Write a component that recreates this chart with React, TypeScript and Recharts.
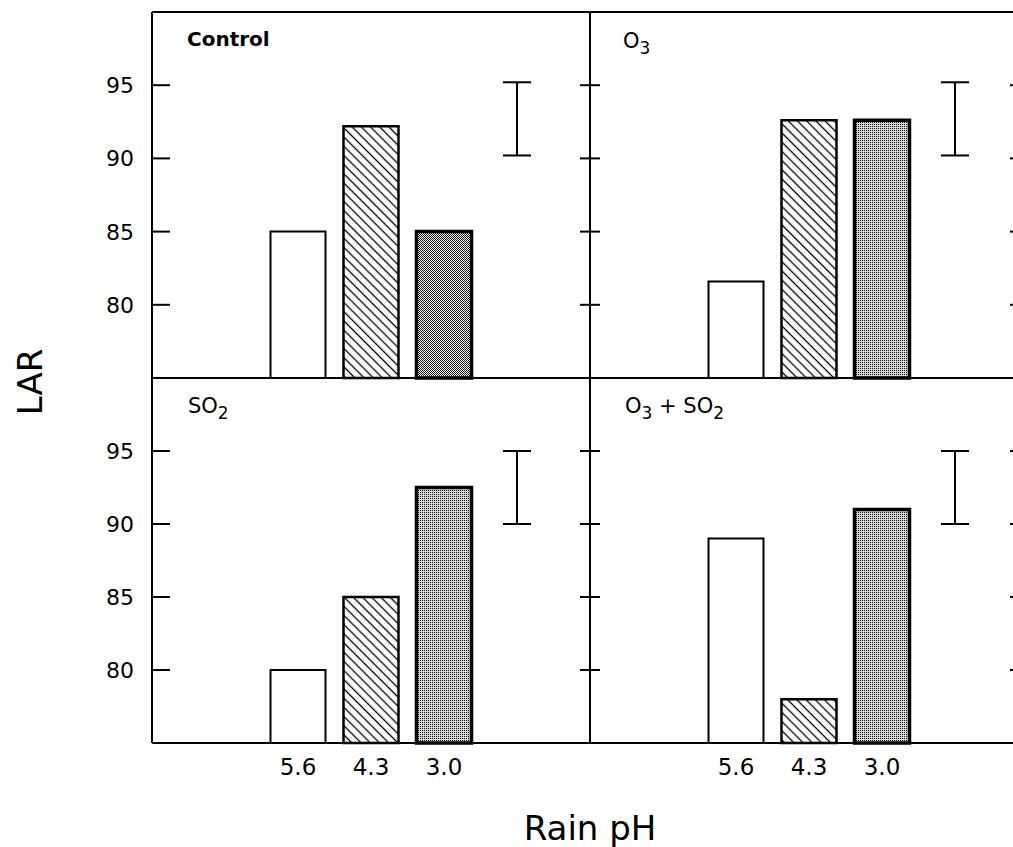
import { ComposedChart, Bar, Cell, XAxis, YAxis, Scatter, ErrorBar } from "recharts";
import type { ReactNode } from "react";

// rain pH treatments, left to right
const phLevels = ["5.6", "4.3", "3.0"];
// extra slot on the category axis that holds the LSD bar
const lsdSlot = "LSD";

// LAR per treatment, one array per panel
const controlLar = [85.0, 92.2, 85.0];
const ozoneLar = [81.6, 92.6, 92.6];
const so2Lar = [80.0, 85.0, 92.5];
const comboLar = [89.0, 78.0, 91.0];

// LSD bar: middle value and half length, panel order TL, TR, BL, BR
const lsdMid = [92.7, 92.7, 92.5, 92.5];
const lsdHalf = [2.5, 2.5, 2.5, 2.5];

const yTicks = [80, 85, 90, 95];
const yDomain = [75, 100];

const FONT = "DejaVu Sans";
const AXIS = { stroke: "#000", strokeWidth: 2 };
const PLOT_W = 438;
const noMark = () => <g />;

// value labels, left of the frame
const valueLabel = (show: boolean) => (props: any) =>
  show ? (
    <text x={Number(props.x) - 18} y={Number(props.y)} dy="0.36em" textAnchor="end" fontSize={22} fontFamily={FONT} fill="#000">
      {props.payload.value}
    </text>
  ) : (
    <g />
  );

// inward tick marks on both frame sides, drawn from the right axis
const frameTicks = (leftLen: number, rightLen: number) => (props: any) => {
  const xr = Number(props.x);
  const xl = xr - PLOT_W;
  const y = Number(props.y);
  return (
    <g>
      <line x1={xr - rightLen} y1={y} x2={xr} y2={y} stroke="#000" strokeWidth={2} />
      <line x1={xl} y1={y} x2={xl + leftLen} y2={y} stroke="#000" strokeWidth={2} />
    </g>
  );
};

interface PanelProps {
  id: string;
  values: number[];
  lsd: number;
  title: ReactNode;
  titleX: number;
  titleY: number;
  left: number;
  top: number;
  isLeft: boolean;
  isBottom: boolean;
  darkDots?: boolean;
}

function Panel({ id, values, lsd, title, titleX, titleY, left, top, isLeft, isBottom, darkDots }: PanelProps) {
  const rows = [...phLevels.map((ph, i) => ({ ph, lar: values[i] })), { ph: lsdSlot }];
  const lsdRows = [{ ph: lsdSlot, mid: lsdMid[lsd], half: lsdHalf[lsd] }];

  const width = isLeft ? 600 : 460;
  const height = isBottom ? 420 : 380;
  // the frame axes take 1px each, so margins are 1px short of the plot edges
  const margin = {
    top: isBottom ? 10 : 11,
    bottom: isBottom ? 44 : 1,
    left: isLeft ? 151 : 9,
    right: isLeft ? 9 : 11,
  };

  const fills = ["#fff", `url(#hatch-${id})`, `url(#dots-${id})`];
  const strokes = [2, 2.5, 3.5];

  return (
    <div style={{ position: "absolute", left, top }}>
      <ComposedChart width={width} height={height} data={rows} margin={margin}>
        <defs>
          <pattern id={`hatch-${id}`} patternUnits="userSpaceOnUse" width="6.5" height="6.5" patternTransform="rotate(-45)">
            <rect width="6.5" height="6.5" fill="#fff" />
            <line x1="3.25" y1="0" x2="3.25" y2="6.5" stroke="#000" strokeWidth="1.3" />
          </pattern>
          <pattern id={`dots-${id}`} patternUnits="userSpaceOnUse" width="2" height="2">
            <rect width="2" height="2" fill={darkDots ? "#fff" : "#d6d6d6"} />
            <rect width="1" height="1" fill="#111" />
            {darkDots && <rect x="1" y="1" width="1" height="1" fill="#111" />}
          </pattern>
        </defs>

        <XAxis
          dataKey="ph"
          allowDuplicatedCategory={false}
          height={1}
          interval={0}
          padding={{ left: 109.5, right: 36.5 }}
          axisLine={AXIS}
          tickLine={false}
          tickSize={0}
          tickMargin={16}
          tick={isBottom ? { fill: "#000", fontSize: 23, fontFamily: FONT } : false}
          tickFormatter={(v) => (v === lsdSlot ? "" : v)}
        />
        {!isBottom && (
          <XAxis
            xAxisId="top"
            orientation="top"
            dataKey="ph"
            allowDuplicatedCategory={false}
            height={1}
            axisLine={AXIS}
            tickLine={false}
            tick={false}
          />
        )}

        {/* hidden value axis for the bars */}
        <YAxis yAxisId="v" hide domain={yDomain} />
        <YAxis
          yAxisId="l"
          orientation="left"
          width={1}
          domain={yDomain}
          ticks={yTicks}
          axisLine={AXIS}
          tickLine={false}
          tickSize={0}
          tickMargin={0}
          tick={valueLabel(isLeft)}
        />
        <YAxis
          yAxisId="r"
          orientation="right"
          width={1}
          domain={yDomain}
          ticks={yTicks}
          axisLine={AXIS}
          tickLine={false}
          tickSize={0}
          tickMargin={0}
          tick={frameTicks(isLeft ? 18 : 10, isLeft ? 10 : 18)}
        />

        <Bar dataKey="lar" yAxisId="v" barSize={55} isAnimationActive={false}>
          {rows.map((_, i) => (
            <Cell key={i} fill={fills[i] ?? "none"} stroke="#000" strokeWidth={strokes[i] ?? 0} />
          ))}
        </Bar>

        <Scatter data={lsdRows} dataKey="mid" yAxisId="l" isAnimationActive={false} shape={noMark}>
          <ErrorBar dataKey="half" direction="y" width={14} stroke="#000" strokeWidth={2} />
        </Scatter>
        <Scatter data={lsdRows} dataKey="mid" yAxisId="r" isAnimationActive={false} shape={noMark} />

        <text x={titleX} y={titleY} fontFamily={FONT} fontSize={21} fill="#000">
          {title}
        </text>
      </ComposedChart>
    </div>
  );
}

export default function App() {
  const sub = (s: string) => (
    <tspan dy={6} fontSize={17}>
      {s}
    </tspan>
  );

  return (
    <div
      style={{
        position: "absolute",
        left: 0,
        top: 0,
        width: 1013,
        height: 847,
        overflow: "hidden",
        background: "#fff",
        fontFamily: FONT,
      }}
    >
      <Panel
        id="tl"
        values={controlLar}
        lsd={0}
        title={<tspan fontWeight="bold" fontSize={20}>Control</tspan>}
        titleX={187}
        titleY={46}
        left={0}
        top={0}
        isLeft
        isBottom={false}
        darkDots
      />
      <Panel
        id="tr"
        values={ozoneLar}
        lsd={1}
        title={<>O{sub("3")}</>}
        titleX={43}
        titleY={48}
        left={580}
        top={0}
        isLeft={false}
        isBottom={false}
      />
      <Panel
        id="bl"
        values={so2Lar}
        lsd={2}
        title={<>SO{sub("2")}</>}
        titleX={188}
        titleY={45}
        left={0}
        top={368}
        isLeft
        isBottom
      />
      <Panel
        id="br"
        values={comboLar}
        lsd={3}
        title={
          <>
            O{sub("3")}
            <tspan dy={-6} fontSize={21}>{" + SO"}</tspan>
            {sub("2")}
          </>
        }
        titleX={45}
        titleY={45}
        left={580}
        top={368}
        isLeft={false}
        isBottom
      />

      <div
        style={{
          position: "absolute",
          left: 30,
          top: 382,
          transform: "translate(-50%, -50%) rotate(-90deg)",
          fontSize: 34,
          lineHeight: 1,
          whiteSpace: "nowrap",
        }}
      >
        LAR
      </div>
      <div
        style={{
          position: "absolute",
          left: 590,
          top: 811,
          transform: "translateX(-50%)",
          fontSize: 34,
          lineHeight: 1,
          whiteSpace: "nowrap",
        }}
      >
        Rain pH
      </div>
    </div>
  );
}
